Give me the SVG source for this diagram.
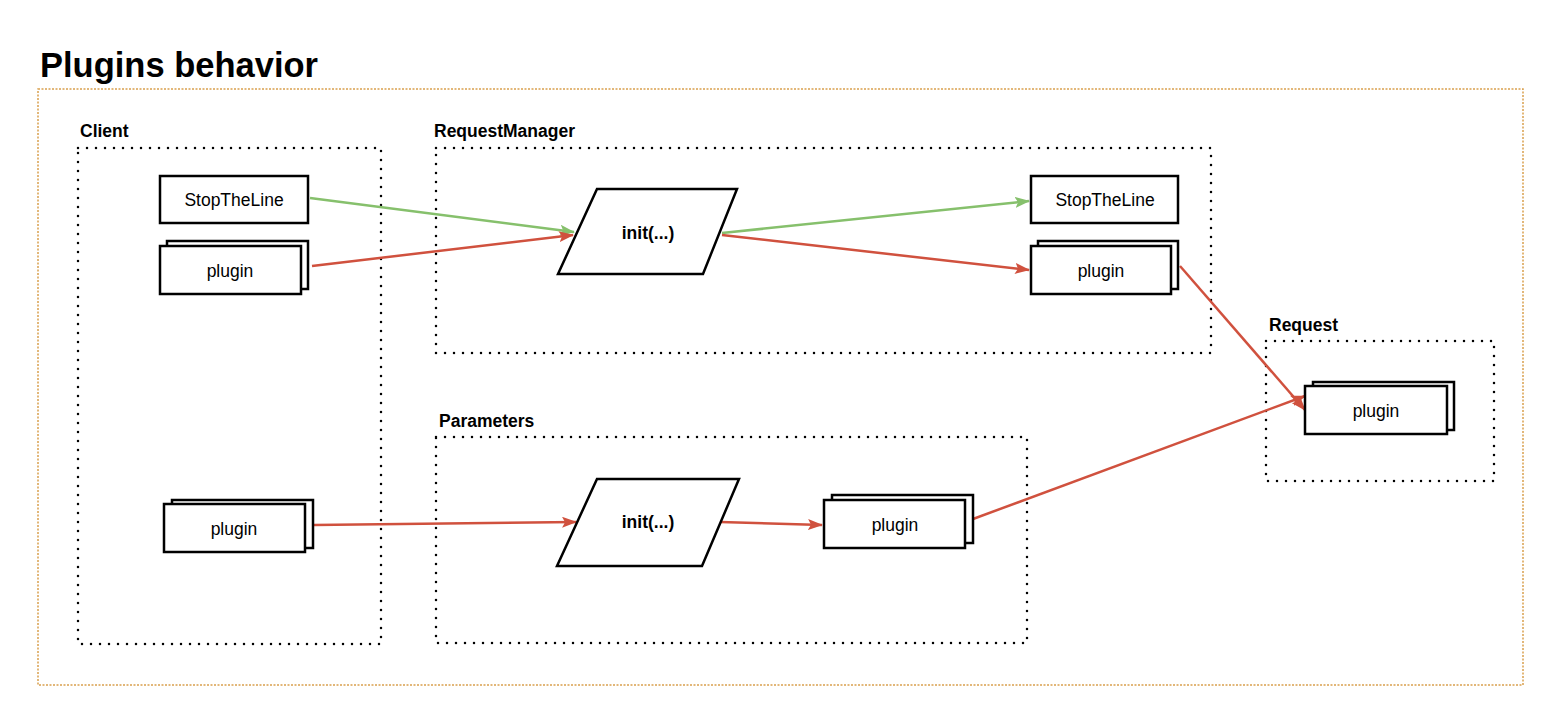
<svg xmlns="http://www.w3.org/2000/svg" width="1561" height="723" viewBox="0 0 1561 723">
<style>
.title{font-family:"Liberation Sans",Arial,sans-serif;font-weight:bold;font-size:34.5px;fill:#000}
.lbl{font-family:"Liberation Sans",Arial,sans-serif;font-weight:bold;font-size:17.5px;fill:#000}
.txt{font-family:"Liberation Sans",Arial,sans-serif;font-size:17.5px;fill:#000;text-anchor:middle;dominant-baseline:central}
.btxt{font-family:"Liberation Sans",Arial,sans-serif;font-weight:bold;font-size:17.5px;fill:#000;text-anchor:middle;dominant-baseline:central}
.grp{fill:none;stroke:#000;stroke-width:2.5;stroke-dasharray:0 9;stroke-linecap:round}
.outer{fill:none;stroke:#d9a04e;stroke-width:1.5;stroke-dasharray:2 1.5}
.box{fill:#fff;stroke:#000;stroke-width:2.5}
.red{fill:none;stroke:#d0513e;stroke-width:2.5}
.green{fill:none;stroke:#86c06c;stroke-width:2.5}
</style>
<defs>
<marker id="ar" viewBox="0 0 15 11" refX="14" refY="5.5" markerWidth="15" markerHeight="11" markerUnits="userSpaceOnUse" orient="auto">
<path d="M0,0 L15,5.5 L0,11 L3,5.5 Z" fill="#d0513e"/>
</marker>
<marker id="ag" viewBox="0 0 15 11" refX="14" refY="5.5" markerWidth="15" markerHeight="11" markerUnits="userSpaceOnUse" orient="auto">
<path d="M0,0 L15,5.5 L0,11 L3,5.5 Z" fill="#86c06c"/>
</marker>
</defs>
<rect width="1561" height="723" fill="#fff"/>
<text class="title" x="40" y="77">Plugins behavior</text>
<rect class="outer" x="38" y="89" width="1485" height="596"/>

<g id="client">
<text class="lbl" x="80" y="137">Client</text>
<rect class="grp" x="78" y="148" width="303" height="496"/>
</g>
<g id="requestmanager">
<text class="lbl" x="434" y="137">RequestManager</text>
<rect class="grp" x="436" y="148" width="775" height="205"/>
</g>
<g id="parameters">
<text class="lbl" x="439" y="427">Parameters</text>
<rect class="grp" x="436" y="437" width="591" height="206"/>
</g>
<g id="request">
<text class="lbl" x="1269" y="331">Request</text>
<rect class="grp" x="1266" y="341" width="228" height="140"/>
</g>

<g id="connectors">
<line class="green" x1="310" y1="198" x2="574" y2="232" marker-end="url(#ag)"/>
<line class="red" x1="312" y1="266" x2="573" y2="235" marker-end="url(#ar)"/>
<line class="green" x1="722" y1="233" x2="1029" y2="201" marker-end="url(#ag)"/>
<line class="red" x1="722" y1="235" x2="1029" y2="270" marker-end="url(#ar)"/>
<line class="red" x1="1180" y1="266" x2="1305" y2="410" marker-end="url(#ar)"/>
<line class="red" x1="973" y1="519" x2="1305" y2="396" marker-end="url(#ar)"/>
<line class="red" x1="314" y1="525" x2="576" y2="522" marker-end="url(#ar)"/>
<line class="red" x1="720" y1="522" x2="822" y2="525" marker-end="url(#ar)"/>
</g>

<g id="client-stoptheline">
<rect class="box" x="160" y="176" width="148" height="47"/>
<text class="txt" x="234" y="200">StopTheLine</text>
</g>
<g id="client-plugin-1">
<rect class="box" x="167" y="241" width="141" height="48"/>
<rect class="box" x="160" y="246" width="141" height="48"/>
<text class="txt" x="230" y="271">plugin</text>
</g>
<g id="client-plugin-2">
<rect class="box" x="172" y="500" width="141" height="48"/>
<rect class="box" x="164" y="504" width="141" height="48"/>
<text class="txt" x="234" y="529">plugin</text>
</g>
<g id="rm-init">
<path class="box" d="M597,189 L737,189 L703,274 L558,274 Z"/>
<text class="btxt" x="648" y="233">init(...)</text>
</g>
<g id="rm-stoptheline">
<rect class="box" x="1031" y="176" width="147" height="47"/>
<text class="txt" x="1105" y="200">StopTheLine</text>
</g>
<g id="rm-plugin">
<rect class="box" x="1038" y="241" width="140" height="48"/>
<rect class="box" x="1031" y="246" width="140" height="48"/>
<text class="txt" x="1101" y="271">plugin</text>
</g>
<g id="param-init">
<path class="box" d="M597,479 L739,479 L702,566 L557,566 Z"/>
<text class="btxt" x="648" y="522">init(...)</text>
</g>
<g id="param-plugin">
<rect class="box" x="832" y="495" width="141" height="48"/>
<rect class="box" x="824" y="500" width="141" height="48"/>
<text class="txt" x="895" y="525">plugin</text>
</g>
<g id="request-plugin">
<rect class="box" x="1313" y="382" width="141" height="48"/>
<rect class="box" x="1305" y="386" width="142" height="48"/>
<text class="txt" x="1376" y="411">plugin</text>
</g>
</svg>
